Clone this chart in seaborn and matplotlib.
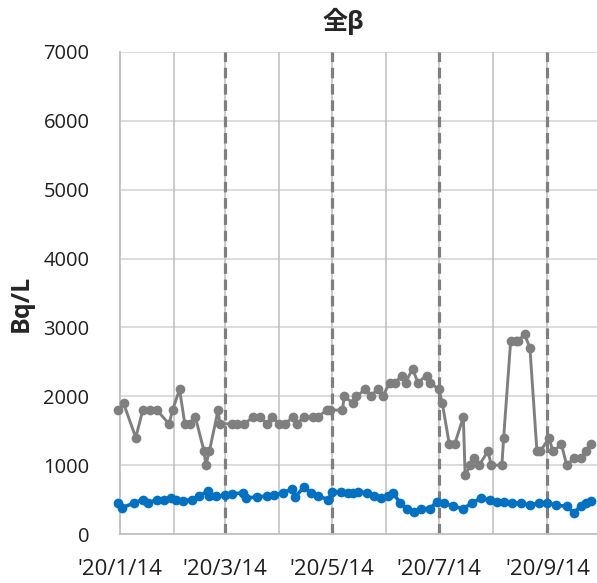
import pandas as pd
import matplotlib
matplotlib.use("Agg")
import matplotlib.pyplot as plt
import seaborn as sns

# ------------------------------------------------------------
# data (Bq/L)
# ------------------------------------------------------------
gray_dates = ["01-13", "01-16", "01-23", "01-27", "01-31", "02-04", "02-11", "02-13",
              "02-17", "02-20", "02-23", "02-26", "03-02", "03-03", "03-05", "03-10",
              "03-11",
              "03-18", "03-21", "03-25", "03-30", "04-03", "04-07", "04-10", "04-14",
              "04-17", "04-22", "04-24", "04-28", "05-03", "05-06", "05-11", "05-13",
              "05-20", "05-21",
              "05-26", "05-28", "06-02", "06-05", "06-09", "06-12", "06-16", "06-19",
              "06-23", "06-25", "06-29", "07-02", "07-07", "07-09", "07-14", "07-16",
              "07-20", "07-23", "07-28", "07-29",
              "08-01", "08-03", "08-06", "08-11", "08-13", "08-19", "08-20", "08-24",
              "08-27", "08-28", "09-01", "09-04", "09-08", "09-10", "09-15", "09-17",
              "09-22", "09-25", "09-29", "10-03", "10-06", "10-09"]
gray_values = [1800, 1900, 1400, 1800, 1800, 1800, 1600, 1800, 2100, 1600, 1600, 1700,
               1200, 1000, 1200, 1800, 1600,
               1600, 1600, 1600, 1700, 1700, 1600, 1700, 1600, 1600, 1700, 1600, 1700,
               1700, 1700, 1800, 1800, 1800, 2000,
               1900, 2000, 2100, 2000, 2100, 2000, 2200, 2200, 2300, 2200, 2400, 2200,
               2300, 2200, 2100, 1900, 1300, 1300, 1700, 850,
               1000, 1100, 1000, 1200, 1000, 1000, 1400, 2800, 2800, 2800, 2900, 2700,
               1200, 1200, 1400, 1200, 1300, 1000, 1100, 1100, 1200, 1300]

blue_dates = ["01-13", "01-15", "01-22", "01-27", "01-30", "02-04", "02-08", "02-12",
              "02-15", "02-19", "02-24", "02-28", "03-04", "03-05", "03-09", "03-14",
              "03-18", "03-24", "03-26", "04-01", "04-07", "04-11", "04-16", "04-21",
              "04-23", "04-28", "05-02", "05-06", "05-12", "05-14", "05-19", "05-23",
              "05-26", "05-29", "06-03", "06-07", "06-11", "06-15", "06-18", "06-22",
              "06-26", "06-30", "07-04", "07-09", "07-13", "07-17", "07-22", "07-28",
              "08-02", "08-07", "08-12", "08-16", "08-20", "08-25", "08-30", "09-04",
              "09-09", "09-14", "09-19", "09-25", "09-29", "10-03", "10-06", "10-09"]
blue_values = [450, 380, 450, 500, 450, 500, 500, 530, 500, 480, 500, 550, 620, 550,
               550, 560, 580, 600, 520, 540, 550, 560, 600, 650, 540, 680, 600, 550,
               500, 610, 610, 600, 600, 610, 600, 550, 520, 550, 590, 450, 360, 320,
               370, 370, 470, 450, 400, 370, 450, 520, 490, 470, 470, 450, 450, 420,
               450, 450, 420, 400, 310, 400, 450, 480]

tick_dates = ["01-14", "03-14", "05-14", "07-14", "09-14"]
tick_labels = ["'20/1/14", "'20/3/14", "'20/5/14", "'20/7/14", "'20/9/14"]
marker_dates = ["03-14", "05-14", "07-14", "09-14"]          # dashed lines
grid_dates = ["02-14", "03-14", "04-14", "05-14", "06-14", "07-14",
              "08-14", "09-14"]                               # monthly gridlines
y_ticks = [0, 1000, 2000, 3000, 4000, 5000, 6000, 7000]


def to_dt(lst):
    return pd.to_datetime(["2020-" + d for d in lst])


gray = pd.DataFrame({"date": to_dt(gray_dates), "value": gray_values})
blue = pd.DataFrame({"date": to_dt(blue_dates), "value": blue_values})

# ------------------------------------------------------------
# plot
# ------------------------------------------------------------
sns.set_style("white")
plt.rcParams["font.family"] = ["Open Sans", "Noto Sans CJK JP", "DejaVu Sans"]

fig = plt.figure(figsize=(5.97, 5.83), dpi=100)
ax = fig.add_axes([120 / 597, 1 - 534 / 583, 480 / 597, 482 / 583])

# gridlines
for y in y_ticks[1:]:
    ax.axhline(y, color="#D9D9D9", lw=1.3, zorder=0)
for d in to_dt(grid_dates):
    ax.axvline(d, color="#BFBFBF", lw=1.1, zorder=0)
for d in to_dt(marker_dates):
    ax.axvline(d, color="#7F7F7F", lw=2.3, ls=(0, (3.3, 1.8)), zorder=1)

sns.lineplot(data=gray, x="date", y="value", color="#7F7F7F", marker="o",
             markersize=7, markeredgewidth=0, linewidth=2.1, ax=ax, zorder=3,
             clip_on=False)
sns.lineplot(data=blue, x="date", y="value", color="#0070C0", marker="o",
             markersize=7, markeredgewidth=0, linewidth=2.6, ax=ax, zorder=4,
             clip_on=False)

ax.set_xlim(pd.Timestamp("2020-01-14"), pd.Timestamp("2020-10-14"))
ax.set_ylim(0, 7000)
ax.set_yticks(y_ticks)
ax.set_yticklabels([str(v) for v in y_ticks])
ax.set_xticks(to_dt(tick_dates))
ax.set_xticklabels(tick_labels)
ax.tick_params(axis="y", length=0, pad=22, labelsize=14.5, labelcolor="#1F1F1F")
ax.tick_params(axis="x", length=0, pad=18, labelsize=16, labelcolor="#1F1F1F")

for s in ["top", "right"]:
    ax.spines[s].set_visible(False)
for s in ["left", "bottom"]:
    ax.spines[s].set_color("#BFBFBF")
    ax.spines[s].set_linewidth(1.3)

ax.set_xlabel("")
ax.set_ylabel("Bq/L", fontsize=18, fontweight="bold")
ax.yaxis.set_label_coords((34 - 120) / 480, (534 - 303) / 482)
fig.text(343 / 597, 1 - 21 / 583, "全β", ha="center", va="center",
         fontsize=18, fontweight="bold")

fig.savefig("out.png", dpi=100)
